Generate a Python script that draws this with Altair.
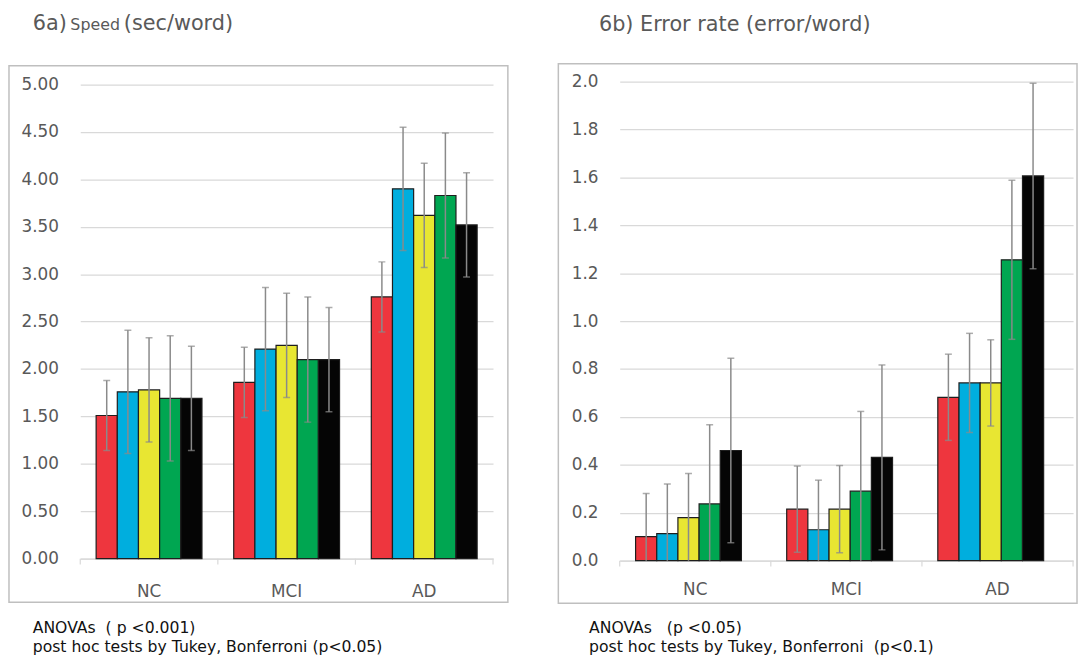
import altair as alt
import pandas as pd

groups = ["NC", "MCI", "AD"]
series = ["1", "2", "3", "4", "5"]
colors = ["#EE363E", "#00AEDE", "#E8E632", "#00A651", "#050505"]

# 6a) Speed (sec/word): means and SD per group
speed_NC = [1.51, 1.76, 1.78, 1.69, 1.69]
speed_MCI = [1.86, 2.21, 2.25, 2.10, 2.10]
speed_AD = [2.76, 3.90, 3.62, 3.83, 3.52]
speed_sd_NC = [0.37, 0.65, 0.55, 0.66, 0.55]
speed_sd_MCI = [0.37, 0.65, 0.55, 0.66, 0.55]
speed_sd_AD = [0.37, 0.65, 0.55, 0.66, 0.55]

# 6b) Error rate (error/word): means and SD per group
err_NC = [0.10, 0.113, 0.18, 0.237, 0.46]
err_MCI = [0.215, 0.129, 0.215, 0.29, 0.431]
err_AD = [0.682, 0.742, 0.742, 1.256, 1.606]
err_sd_NC = [0.18, 0.207, 0.184, 0.33, 0.385]
err_sd_MCI = [0.18, 0.207, 0.182, 0.333, 0.386]
err_sd_AD = [0.18, 0.207, 0.18, 0.332, 0.387]

speed_ticks = [0, 0.5, 1, 1.5, 2, 2.5, 3, 3.5, 4, 4.5, 5]
err_ticks = [0, 0.2, 0.4, 0.6, 0.8, 1.0, 1.2, 1.4, 1.6, 1.8, 2.0]

NB = "\u00a0"
notes_a = ["ANOVAs" + NB + NB + "( p <0.001)", "post hoc tests by Tukey, Bonferroni (p<0.05)"]
notes_b = ["ANOVAs" + NB + NB + NB + "(p <0.05)", "post hoc tests by Tukey, Bonferroni" + NB + NB + "(p<0.1)"]


def build(means, sds):
    rows = []
    for g, m, s in zip(groups, means, sds):
        for ser, v, e in zip(series, m, s):
            rows.append({"group": g, "series": ser, "mean": v, "lo": v - e, "hi": v + e})
    return pd.DataFrame(rows)


GRAY = "#595959"
FONT = "DejaVu Sans"


def panel(df, w, h, dom, ticks, fmt, off_pad, title_parts, notes, frame, note_y, note_x, xlab_pad):
    base = alt.Chart(df)
    xscale = alt.Scale(paddingInner=0, paddingOuter=0)
    x = alt.X("group:N", sort=groups, scale=xscale,
              axis=alt.Axis(title=None, labelAngle=0, ticks=False, domain=True,
                            domainColor="#D9D9D9", domainWidth=1.2, labelFont=FONT,
                            labelFontSize=17, labelColor=GRAY, labelPadding=xlab_pad, grid=False))
    xs = alt.X("group:N", sort=groups)
    xo = alt.XOffset("series:N", sort=series,
                     scale=alt.Scale(paddingOuter=off_pad, paddingInner=0))
    yscale = alt.Scale(domain=dom, nice=False, zero=True)
    bars = base.mark_bar(stroke="#1e1e1e", strokeWidth=1.2).encode(
        x=x, xOffset=xo,
        y=alt.Y("mean:Q", scale=yscale,
                axis=alt.Axis(title=None, values=ticks, format=fmt, domain=False, ticks=False,
                              grid=True, gridColor="#D9D9D9", gridWidth=1.2, labelFont=FONT,
                              labelFontSize=17, labelColor=GRAY, labelPadding=22)),
        color=alt.Color("series:N", scale=alt.Scale(domain=series, range=colors), legend=None),
    )
    ecol = "#8a8a8a"
    rule = base.mark_rule(color=ecol, strokeWidth=1.5, clip=True).encode(
        x=xs, xOffset=xo, y="lo:Q", y2="hi:Q")
    cap_hi = base.mark_tick(color=ecol, thickness=1.5, size=7, clip=True).encode(
        x=xs, xOffset=xo, y="hi:Q")
    cap_lo = base.mark_tick(color=ecol, thickness=1.5, size=7, clip=True).encode(
        x=xs, xOffset=xo, y="lo:Q")
    gdf = pd.DataFrame({"group": groups})
    seps = alt.Chart(gdf).mark_rule(color="#D9D9D9", strokeWidth=1.2).encode(
        x=alt.X("group:N", sort=groups, bandPosition=1), y=alt.value(h), y2=alt.value(h + 6))
    sep0 = alt.Chart(gdf.head(1)).mark_rule(color="#D9D9D9", strokeWidth=1.2).encode(
        x=alt.value(0), y=alt.value(h), y2=alt.value(h + 6))
    fx1, fx2, fy1, fy2 = frame
    fr = alt.Chart(gdf.head(1)).mark_rect(fillOpacity=0, stroke="#BFBFBF", strokeWidth=1.5).encode(
        x=alt.value(fx1), x2=alt.value(fx2), y=alt.value(fy1), y2=alt.value(fy2))
    layers = [fr, bars, rule, cap_hi, cap_lo, seps, sep0]
    for txt, tx, ty, fs in title_parts:
        layers.append(alt.Chart(pd.DataFrame({"t": [txt]})).mark_text(
            align="left", baseline="alphabetic", font=FONT, fontSize=fs, color=GRAY
        ).encode(x=alt.value(tx), y=alt.value(ty), text="t:N"))
    layers.append(alt.Chart(gdf.head(1)).mark_text(
        align="left", baseline="alphabetic", font=FONT, fontSize=15.8, lineHeight=19,
        color="#111111"
    ).encode(x=alt.value(note_x), y=alt.value(note_y), text=alt.value(notes)))
    return alt.layer(*layers).properties(width=w, height=h)


left = panel(build([speed_NC, speed_MCI, speed_AD], [speed_sd_NC, speed_sd_MCI, speed_sd_AD]),
             417, 482, [0, 5.0313], speed_ticks, ".2f", 0.75,
             [("6a)", -48, -52, 21), ("Speed", -10, -52, 16), ("(sec/word)", 44, -52, 21)],
             notes_a, (-72, 432, -16, 526), 557, -48, 25)
right = panel(build([err_NC, err_MCI, err_AD], [err_sd_NC, err_sd_MCI, err_sd_AD]),
              458, 484, [0, 2], err_ticks, ".1f", 1.0,
              [("6b) Error rate (error/word)", -21, -51, 21)],
              notes_b, (-62, 462, -18, 527), 557, -31, 21)

chart = alt.hconcat(left, right, spacing=49).properties(
    padding={"top": 2, "left": 0, "right": 0, "bottom": 0}
).configure_view(strokeWidth=0)
chart.save("out.html", embed_options={"renderer": "svg", "actions": False})
